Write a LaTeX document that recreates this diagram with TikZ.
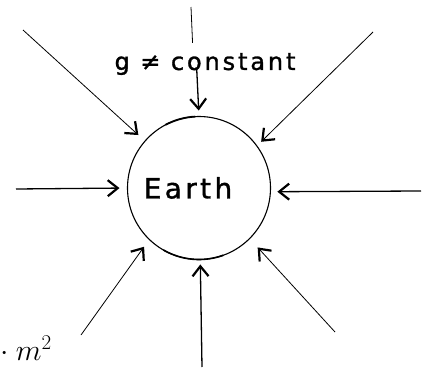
\RequirePackage{fix-cm}
\documentclass[tikz,border=0pt]{standalone}
\usepackage{fontspec}
\newfontfamily\handfont[LetterSpace=12,FakeBold=1.2]{DejaVu Sans}
\usetikzlibrary{arrows.meta,positioning}

\begin{document}
\begin{tikzpicture}[x=1pt,y=1pt,
  planet/.style={circle, draw=black, line width=1.1pt, minimum size=143pt, inner sep=0pt, outer sep=0pt},
  planetlbl/.style={font=\handfont\fontsize{28}{32}\selectfont, inner sep=0pt},
  gravlbl/.style={font=\handfont\fontsize{24}{28}\selectfont, inner sep=0pt},
  masslbl/.style={font=\fontsize{30}{36}\selectfont, inner sep=0pt},
  pull/.style={-{Straight Barb[length=10pt,width=16pt,line width=2.2pt 0]}, line width=0.8pt, draw=black},
  pullthick/.style={pull, line width=1.3pt},
]
\useasboundingbox (0,0) rectangle (424,368);

% --- the planet, with a couple of heavier pen strokes on its outline ---
\node[planet] (earth) at (199,180) {};
\node[planetlbl] (earthtxt) at ([xshift=-11pt]earth.center) {Earth};
\draw[line width=1.8pt] (earth.93) arc[start angle=93, end angle=118, radius=71.5pt];
\draw[line width=1.6pt] (earth.240) arc[start angle=240, end angle=290, radius=71.5pt];

% --- label on the top arrow ---
\node[gravlbl] (gneq) at (205,304) {g ≠ constant};

% --- loose ends of the arrows, clockwise from the top ---
\coordinate (ctop) at (191,361);
\coordinate (ctr) at (373,336);
\coordinate (cr) at (421,177);
\coordinate (cbr) at (335,36);
\coordinate (cb) at (202,1);
\coordinate (cbl) at (81,33);
\coordinate (cl) at (16,179);
\coordinate (ctl) at (23,338);

% --- arrows: everything pulls in toward the planet ---
\draw[line width=0.8pt, shorten >=10pt] (ctop) -- ([xshift=-12pt]gneq.north);
\draw[pullthick, shorten <=-6pt, shorten >=6pt] ([xshift=-8pt]gneq.south) -- (earth.90);
\draw[pull, shorten >=6pt] (ctr) -- (earth.36);
\draw[pullthick, shorten >=7pt] (cr) -- (earth.-3);
\draw[pull, shorten >=12pt] (cbr) -- (earth.315);
\draw[pullthick, shorten >=5pt] (cb) -- (earth.271);
\draw[pull, shorten >=9pt] (cbl) -- (earth.226);
\draw[pullthick, shorten >=8pt] (cl) -- (earth.180);
\draw[pull, shorten >=9pt] (ctl) -- (earth.139);

% --- stray term in the bottom left corner ---
\node[masslbl, anchor=base east] (msq) at (52,8) {${}\cdot m^2$};

\end{tikzpicture}
\end{document}
